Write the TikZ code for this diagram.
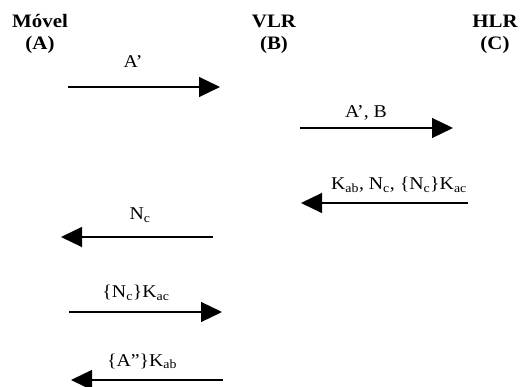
\documentclass[tikz,border=0pt]{standalone}
\usepackage{fontspec}
\setmainfont{Liberation Serif}[FakeStretch=1.1]
\usepackage{tikz}
\usetikzlibrary{arrows.meta}
\tikzset{
    entity/.style = {align=center, inner sep=0pt, anchor=base, font=\fontsize{19}{22}\selectfont\bfseries},
    msg/.style = {inner sep=0pt, anchor=base, font=\fontsize{18}{20}\selectfont},
    msgarrow/.style = {-{Triangle[length=21pt, width=20pt]}, line width=1.2pt}
}
\newcommand{\sbs}[1]{\textsubscript{#1}}

\begin{document}
\begin{tikzpicture}[x=1pt, y=-1pt]
    \useasboundingbox (0,0) rectangle (522,387);

    % entities
    \node [entity] (mov) at (40,50) {M\'ovel\\(A)};
    \node [entity] (vlr) at (274,50) {VLR\\(B)};
    \node [entity] (hlr) at (495,50) {HLR\\(C)};

    % message ends
    \coordinate (m1a) at (68,87);   \coordinate (m1b) at (220,87);
    \coordinate (m2a) at (300,128); \coordinate (m2b) at (453,128);
    \coordinate (m3a) at (468,203); \coordinate (m3b) at (301,203);
    \coordinate (m4a) at (213,237); \coordinate (m4b) at (61,237);
    \coordinate (m5a) at (69,312);  \coordinate (m5b) at (222,312);
    \coordinate (m6a) at (223,380); \coordinate (m6b) at (71,380);

    \draw [msgarrow] (m1a) -- (m1b);
    \draw [msgarrow] (m2a) -- (m2b);
    \draw [msgarrow] (m3a) -- (m3b);
    \draw [msgarrow] (m4a) -- (m4b);
    \draw [msgarrow] (m5a) -- (m5b);
    \draw [msgarrow] (m6a) -- (m6b);

    % labels
    \node [msg] (l1) at (133,68) {A'};
    \node [msg] (l2) at (366,118) {A', B};
    \node [msg] (l3) at (399,190) {K\sbs{ab}, N\sbs{c}, \{N\sbs{c}\}K\sbs{ac}};
    \node [msg] (l4) at (140,220) {N\sbs{c}};
    \node [msg] (l5) at (136,298) {\{N\sbs{c}\}K\sbs{ac}};
    \node [msg] (l6) at (142,366) {\{A''\}K\sbs{ab}};
\end{tikzpicture}
\end{document}
